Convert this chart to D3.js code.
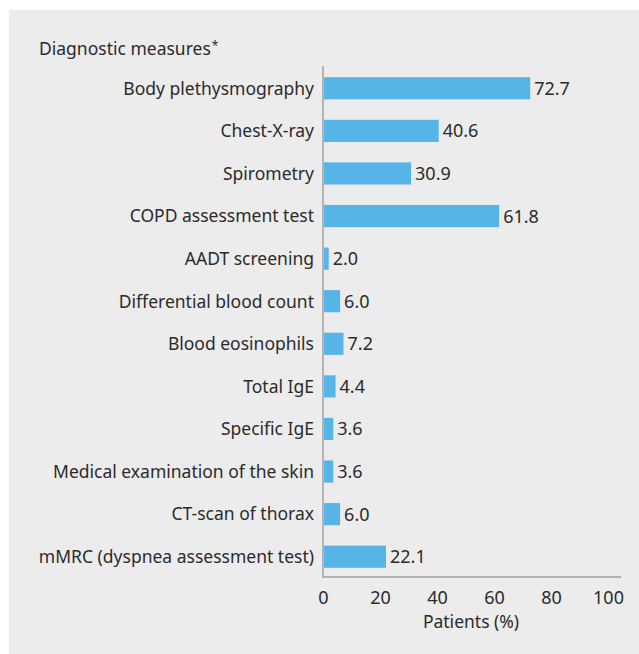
<!DOCTYPE html>
<html>
<head>
<meta charset="utf-8">
<script src="https://cdn.jsdelivr.net/npm/d3@7"></script>
<style>
  body { margin: 0; background: #fff; }
  text { font-family: "Noto Sans", sans-serif; fill: #2b2b2b; }
</style>
</head>
<body>
<svg id="main"></svg>
<script>
//--------data----------
const measures = ['Body plethysmography', 'Chest-X-ray', 'Spirometry', 'COPD assessment test',
  'AADT screening', 'Differential blood count', 'Blood eosinophils', 'Total IgE',
  'Specific IgE', 'Medical examination of the skin', 'CT-scan of thorax', 'mMRC (dyspnea assessment test)'];
const patients = [72.7, 40.6, 30.9, 61.8, 2.0, 6.0, 7.2, 4.4, 3.6, 3.6, 6.0, 22.1];
const xTicks = [0, 20, 40, 60, 80, 100];

//--------code----------
let width = 639, height = 654;
let svg = d3.select('#main')
  .attr('width', width)
  .attr('height', height);

svg.append('rect')
  .attr('x', 9).attr('y', 10)
  .attr('width', width - 9).attr('height', height - 10)
  .attr('fill', '#ebeceb');

let data = measures.map((m, i) => ({name: m, value: patients[i]}));

let sx = d3.scaleLinear().domain([0, 100]).range([323, 608]);
let sy = d3.scaleBand().domain(measures).range([67, 578])
  .paddingInner(0.48).paddingOuter(0.24);

// title
let title = svg.append('text')
  .attr('x', 39).attr('y', 55)
  .style('font-size', '17.5px');
title.append('tspan').text('Diagnostic measures');
title.append('tspan').attr('dx', 1).attr('dy', -5).style('font-size', '12px').text('*');

// bars
svg.selectAll('.bar')
  .data(data)
  .join('rect')
  .attr('class', 'bar')
  .attr('x', sx(0) + 1)
  .attr('y', d => sy(d.name))
  .attr('width', d => sx(d.value) - sx(0) - 1)
  .attr('height', sy.bandwidth())
  .attr('fill', '#56b4e6');

// value labels
svg.selectAll('.val')
  .data(data)
  .join('text')
  .attr('class', 'val')
  .attr('x', d => sx(d.value) + 4)
  .attr('y', d => sy(d.name) + sy.bandwidth() / 2)
  .attr('dy', '0.36em')
  .style('font-size', '18px')
  .text(d => d.value.toFixed(1));

// category labels
svg.selectAll('.cat')
  .data(data)
  .join('text')
  .attr('class', 'cat')
  .attr('x', 314)
  .attr('y', d => sy(d.name) + sy.bandwidth() / 2)
  .attr('dy', '0.36em')
  .style('text-anchor', 'end')
  .style('font-size', '17.5px')
  .text(d => d.name);

// axes
let ax = d3.axisBottom(sx).tickValues(xTicks).tickSize(0).tickPadding(14);
let gx = svg.append('g')
  .attr('transform', 'translate(0,577)')
  .call(ax);
gx.select('.domain').remove();
gx.selectAll('text').style('font-size', '18px').style('font-family', '"Noto Sans", sans-serif').attr('fill', '#2b2b2b');

svg.append('line')
  .attr('x1', sx(0)).attr('x2', 621)
  .attr('y1', 577).attr('y2', 577)
  .attr('stroke', '#a0a0a0').attr('stroke-width', 1.5);
svg.append('line')
  .attr('x1', sx(0)).attr('x2', sx(0))
  .attr('y1', 66).attr('y2', 577.75)
  .attr('stroke', '#a0a0a0').attr('stroke-width', 1.5);

svg.append('text')
  .attr('x', 471).attr('y', 628)
  .style('text-anchor', 'middle')
  .style('font-size', '17.5px')
  .text('Patients (%)');
</script>
</body>
</html>
